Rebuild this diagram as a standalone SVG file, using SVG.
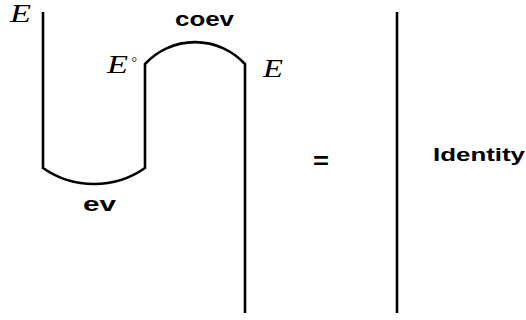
<svg xmlns="http://www.w3.org/2000/svg" width="526" height="320" viewBox="0 0 526 320">
<style>
.strand{fill:none;stroke:#000;stroke-width:2.6}
.lbl{font-family:"Liberation Sans",Arial,sans-serif;font-weight:bold;fill:#000}
.math{font-family:"Liberation Serif","Times New Roman",serif;font-style:italic;fill:#000}
</style>
<rect width="526" height="320" fill="#fff"/>
<g id="connectors">
<path class="strand" d="M43,12 V168 A89,89 0 0 0 145,168 V64 A68,68 0 0 1 245,64 V313"/>
<path class="strand" d="M397,12 V313"/>
</g>
<g id="label-E-top"><text class="math" x="10" y="22" font-size="25" textLength="21" lengthAdjust="spacingAndGlyphs">E</text></g>
<g id="label-E-dual"><text class="math" x="107" y="73" font-size="25" textLength="21" lengthAdjust="spacingAndGlyphs">E</text><text class="math" x="131" y="67" font-size="14" font-style="normal">°</text></g>
<g id="label-E-right"><text class="math" x="263" y="77" font-size="25" textLength="20" lengthAdjust="spacingAndGlyphs">E</text></g>
<g id="coev"><text class="lbl" x="175" y="26" font-size="21" textLength="59" lengthAdjust="spacingAndGlyphs">coev</text></g>
<g id="ev"><text class="lbl" x="83" y="211" font-size="21" textLength="33" lengthAdjust="spacingAndGlyphs">ev</text></g>
<g id="equals"><text class="lbl" x="313" y="168.5" font-size="24" textLength="16" lengthAdjust="spacingAndGlyphs">=</text></g>
<g id="identity"><text class="lbl" x="433" y="161" font-size="18" textLength="92" lengthAdjust="spacingAndGlyphs">Identity</text></g>
</svg>
